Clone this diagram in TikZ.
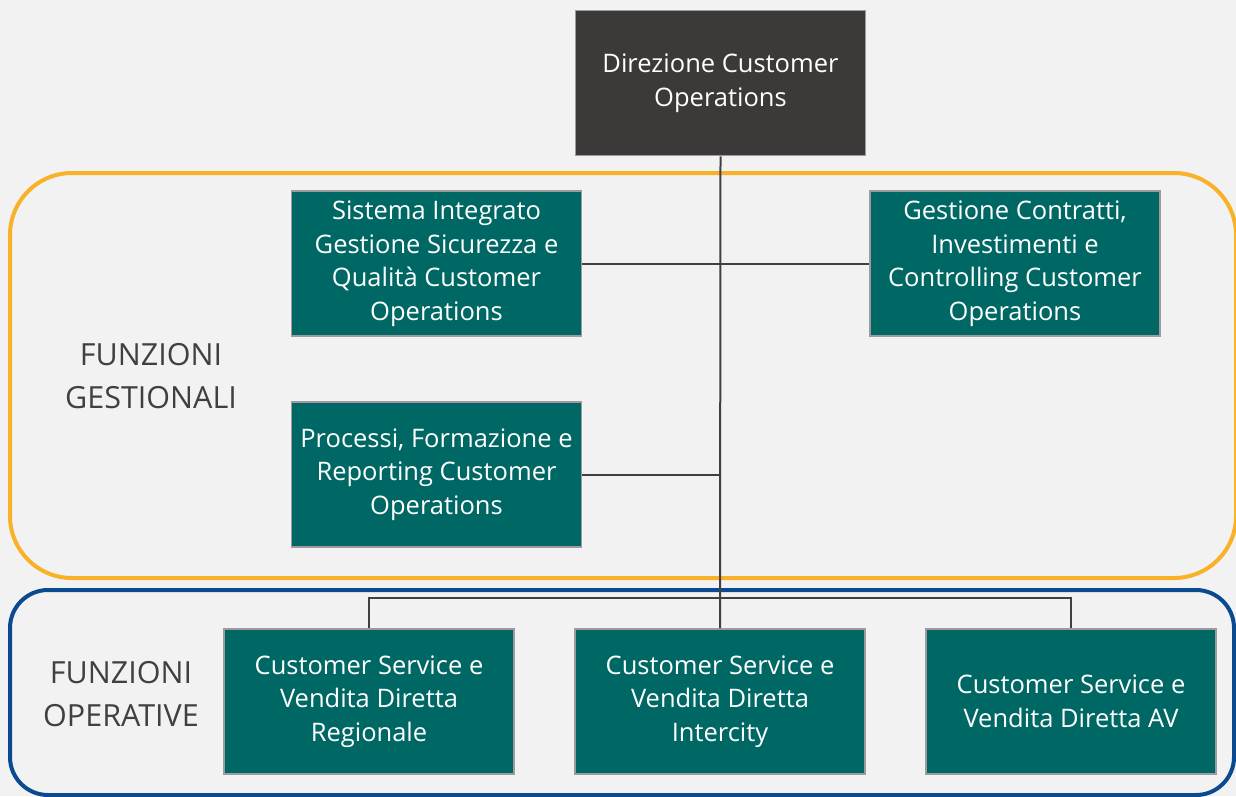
\documentclass[tikz,border=0pt]{standalone}
\usepackage{fontspec}
\setmainfont{Open Sans}
\definecolor{bg}{HTML}{F2F2F2}
\definecolor{teal}{HTML}{006864}
\definecolor{dark}{HTML}{3B3A39}
\definecolor{frame}{HTML}{A09AA0}
\definecolor{orng}{HTML}{F9B128}
\definecolor{blu}{HTML}{0B4A91}
\definecolor{lin}{HTML}{404040}
\definecolor{lbl}{HTML}{404040}
\tikzset{
  box/.style={draw=frame, line width=1.5pt, fill=teal, text=white, minimum width=290pt, minimum height=145pt, align=center, inner sep=0pt, font=\fontsize{25.5}{33.5}\selectfont},
  topbox/.style={box, fill=dark},
  conn/.style={draw=lin, line width=2pt},
  grp/.style={line width=4pt},
  lab/.style={text=lbl, align=center, font=\fontsize{30.5}{43}\selectfont}
}
\begin{document}
\begin{tikzpicture}[x=1pt,y=-1pt]
\fill[bg] (0,0) rectangle (1236,796);
\useasboundingbox (0,0) rectangle (1236,796);
\draw[grp, draw=orng, rounded corners=62pt] (10,173) rectangle (1236,578);
\draw[grp, draw=blu, rounded corners=38pt] (10,590) rectangle (1234,795);
\node[lab] (lg) at (151,376) {FUNZIONI\\GESTIONALI};
\node[lab] (lo) at (121,694) {FUNZIONI\\OPERATIVE};
\node[topbox] (dir) at (720.5,83) {Direzione Customer\\Operations};
\node[box] (sis) at (436.5,263.5) {Sistema Integrato\\Gestione Sicurezza e\\Qualità Customer\\Operations};
\node[box] (ges) at (1015,263.5) {Gestione Contratti,\\Investimenti e\\Controlling Customer\\Operations};
\node[box] (pro) at (436.5,474.5) {Processi, Formazione e\\Reporting Customer\\Operations};
\node[box] (reg) at (369,701.5) {Customer Service e\\Vendita Diretta\\Regionale};
\node[box] (int) at (720,701.5) {Customer Service e\\Vendita Diretta\\Intercity};
\node[box] (av) at (1071,701.5) {Customer Service e\\Vendita Diretta AV};
\coordinate (bl) at (369,598);
\coordinate (br) at (1071,598);
\path[conn] (dir.south) -- (int.north);
\path[conn] (sis.east) -- (ges.west);
\path[conn] (pro.east) -- (pro.east -| dir.south);
\path[conn] (reg.north) -- (bl) -- (br) -- (av.north);
\end{tikzpicture}
\end{document}
